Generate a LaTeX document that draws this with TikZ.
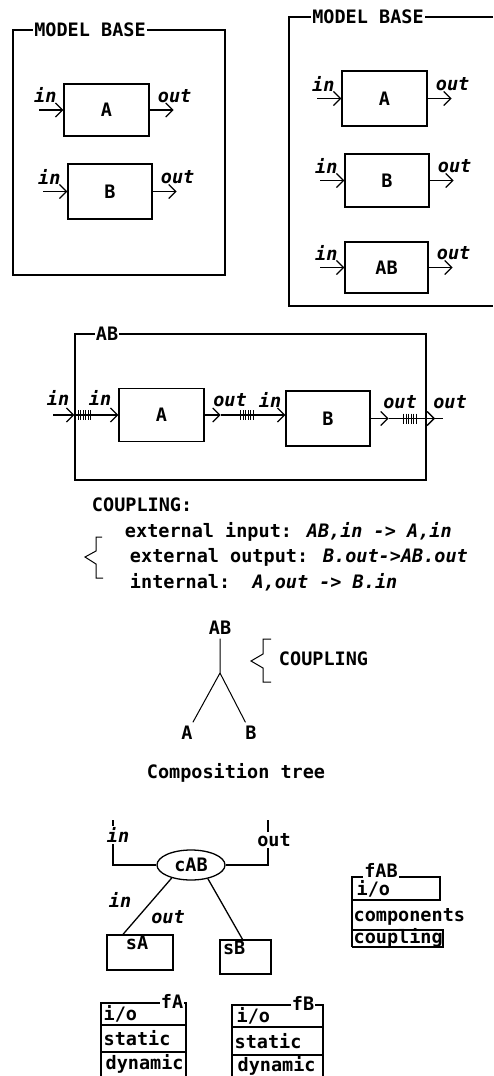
\documentclass[tikz,border=0pt]{standalone}
\usepackage{fontspec}
\setmainfont{DejaVu Sans Mono}
\usetikzlibrary{arrows.meta,calc,shapes.geometric}
\newcommand\bigmono{\fontsize{18.5}{20}\selectfont\bfseries}
\begin{document}
\begin{tikzpicture}[x=1pt,y=-1pt,font=\bigmono,line width=1.3pt,
 blk/.style={draw,inner sep=0pt},
 flow/.style={-{Straight Barb[length=7pt,width=14pt,line width=1.3pt]}},
 io/.style={font=\bigmono\itshape,inner sep=1pt},
 ttl/.style={fill=white,inner sep=1pt},
 thin/.style={line width=1pt},
 hatch/.pic={\foreach \k in {0,...,5}{\draw[line width=1pt] (\k*2.5,-5)--(\k*2.5,5);}}]
\useasboundingbox (0,0) rectangle (493,1076);
 \node[blk,minimum width=212,minimum height=245] (mb1) at (119,152.5) {};\node[ttl] (mb1t) at (90,30) {MODEL BASE};
 \node[blk,minimum width=85,minimum height=52] (A1) at (106.5,110) {A};
 \node[blk,minimum width=84,minimum height=55] (B1) at (110,191.5) {B};
 \draw (493,17) -- (289,17) -- (289,306) -- (493,306);\node[ttl] (mb2t) at (368,17) {MODEL BASE};
 \node[blk,minimum width=85,minimum height=55] (A2) at (384.5,98.5) {A};
 \node[blk,minimum width=84,minimum height=53] (B2) at (387,180.5) {B};
 \node[blk,minimum width=83,minimum height=51] (AB2) at (386.5,267.5) {AB};
 \foreach \b in {A1,B1,A2,B2,AB2}{
  \draw[flow] ([xshift=-24pt]\b.west) -- (\b.west);\draw[flow] (\b.east) -- ([xshift=24pt]\b.east);
  \node[io] (\b-in) at ([xshift=-18pt,yshift=15pt]\b.west) {in};\node[io] (\b-out) at ([xshift=25pt,yshift=14pt]\b.east) {out};}
 \node[blk,minimum width=351,minimum height=146] (ABf) at (250.5,407) {};\node[ttl] (ABft) at (107,334) {AB};
 \node[blk,minimum width=85,minimum height=53] (A3) at (161.5,415) {A};
 \node[blk,minimum width=84,minimum height=55] (B3) at (328,418.5) {B};
 \coordinate (ABin) at (53,415);\coordinate (m1) at ($(A3.east)+(16,0)$);\coordinate (m2) at ($(B3.east)+(18,0)$);\coordinate (ABout) at (435,418.5);
 \draw[flow] (ABin) -- (ABin -| ABf.west);\draw[flow] (ABin -| ABf.west) -- (A3.west);\pic at ($(ABin -| ABf.west)+(4,0)$) {hatch};
 \draw[flow] (A3.east) -- (m1);\draw[flow] (m1) -- (m1 -| B3.west);\pic at ($(A3.east)+(36,0)$) {hatch};
 \draw[flow] (B3.east) -- (m2);\draw[flow] (m2) -- (ABout);\draw (ABout) -- ++(8,0);\pic at ($(B3.east)+(33,0)$) {hatch};
 \node[io] (l1) at (58,398) {in};\node[io] (l2) at (100,398) {in};\node[io] (l3) at (230,400) {out};
 \node[io] (l4) at (270,400) {in};\node[io] (l5) at (400,402) {out};\node[io] (l6) at (450,402) {out};
 \node[anchor=west] (cp) at (88,505) {COUPLING:};
 \node[anchor=west] (cp1) at (121,532) {external input: \textit{AB,in -> A,in}};
 \node[anchor=west] (cp2) at (126,557) {external output: \textit{B.out->AB.out}};
 \node[anchor=west] (cp3) at (126,582) {internal:\ \ \textit{A,out -> B.in}};
 \draw[thin] (102,537) -- (96,537) -- (96,551) -- (85,557) -- (96,564) -- (96,578) -- (103,578);
 \node (ABt) at (220,628) {AB};\coordinate (jn) at (220,673);
 \node (At) at (187,733) {A};\node (Bt) at (251,733) {B};
 \draw[thin] (ABt) -- (jn) -- (At);\draw[thin] (jn) -- (Bt);
 \node[anchor=west] (cpl) at (275,659) {COUPLING};
 \draw[thin] (271,639) -- (263,639) -- (263,654) -- (251,661) -- (263,668) -- (263,682) -- (271,682);
 \node (ctree) at (236,773) {Composition tree};
 \node[draw,ellipse,minimum width=68,minimum height=30,inner sep=0pt] (cAB) at (191,865) {cAB};
 \coordinate (inT) at (113,820);\coordinate (outT) at (268,820);
 \draw (cAB.west) -| (inT);\draw (cAB.east) -| (outT);
 \node[io,fill=white] (cin) at (118,835) {in};\node[ttl] (cout) at (274,840) {out};
 \node[blk,minimum width=66,minimum height=35] (sA) at (140,952.5) {};\node[anchor=north,inner sep=1pt] (sAt) at ([xshift=-3pt]sA.north) {sA};
 \node[blk,minimum width=51,minimum height=34] (sB) at (245.5,957) {};\node[anchor=north west,inner sep=1pt] (sBt) at ([xshift=2pt]sB.north west) {sB};
 \draw (cAB.214) -- ([xshift=-17pt]sA.north);\draw (cAB.321) -- ([xshift=-3pt]sB.north);
 \node[io] (sin) at (120,900) {in};\node[io] (sout) at (168,917) {out};
 \draw (352,947) -- (352,877) -- (440,877) -- (440,900) -- (352,900);\draw (352,930) -- (443,930) -- (443,947) -- (352,947);
 \node[ttl] (fABt) at (381,870) {fAB};
 \node[anchor=west,inner sep=1pt] (fABio) at (355,889) {i/o};
 \node[anchor=west,inner sep=1pt] (fABcm) at (352,917) {components};
 \node[anchor=west,inner sep=1pt] (fABcp) at (352,938) {coupling};
 \draw (101,1076) -- (101,1003) -- (186,1003) -- (186,1076);\draw (101,1025) -- (186,1025) (101,1052) -- (186,1052);
 \node[ttl] (fAt) at (172,1001) {fA};
 \node[anchor=west,inner sep=1pt] (fAio) at (102,1014) {i/o};
 \node[anchor=west,inner sep=1pt] (fAst) at (102,1038) {static};
 \node[anchor=west,inner sep=1pt] (fAdy) at (104,1064) {dynamic};
 \draw (232,1076) -- (232,1005) -- (323,1005) -- (323,1076);\draw (232,1027) -- (323,1027) (232,1055) -- (323,1055);
 \node[ttl] (fBt) at (303,1003) {fB};
 \node[anchor=west,inner sep=1pt] (fBio) at (235,1016) {i/o};
 \node[anchor=west,inner sep=1pt] (fBst) at (233,1041) {static};
 \node[anchor=west,inner sep=1pt] (fBdy) at (236,1066) {dynamic};
\end{tikzpicture}
\end{document}
